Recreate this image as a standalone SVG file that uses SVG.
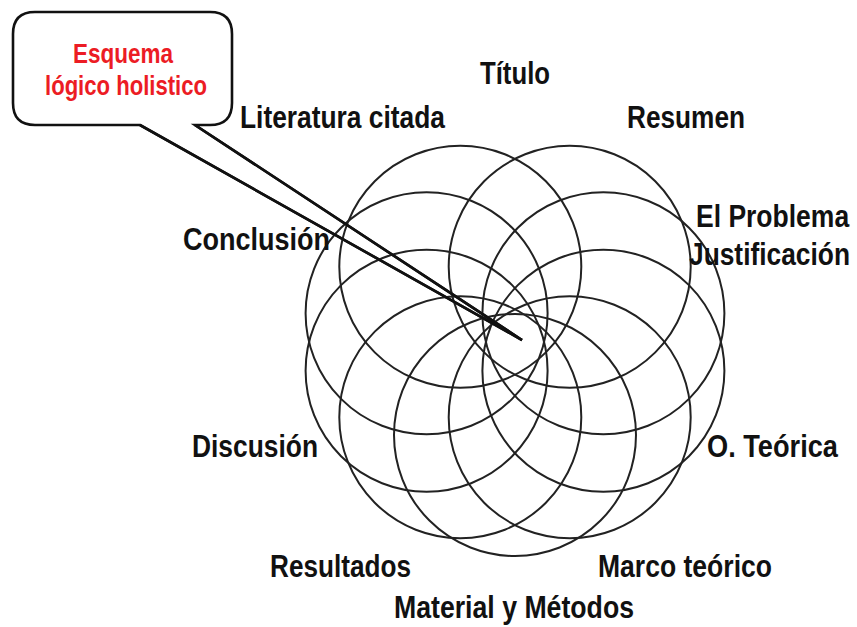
<svg xmlns="http://www.w3.org/2000/svg" width="857" height="627" viewBox="0 0 857 627">
<style>
.ring{fill:none;stroke:#222;stroke-width:2}
.lbl{font-family:"Liberation Sans",Arial,sans-serif;font-weight:bold;font-size:31px;fill:#111}
.red{font-family:"Liberation Sans",Arial,sans-serif;font-weight:bold;font-size:27px;fill:#ec1c24}
</style>
<rect width="857" height="627" fill="#fff"/>
<g id="callout">
<path d="M35,12 H210 Q232,12 232,34 V103 Q232,125 210,125 H195 L522,340 L140,125 H35 Q13,125 13,103 V34 Q13,12 35,12 Z" fill="#fff" stroke="#111" stroke-width="2.6" stroke-linejoin="miter"/>
<text class="red" x="123" y="63" text-anchor="middle" textLength="100" lengthAdjust="spacingAndGlyphs">Esquema</text>
<text class="red" x="126" y="95" text-anchor="middle" textLength="162" lengthAdjust="spacingAndGlyphs">lógico holistico</text>
</g>
<g id="rosette">
<g transform="translate(515,342)">
<circle class="ring" cx="54.7" cy="-75.2" r="121"/>
<circle class="ring" cx="88.4" cy="-28.7" r="121"/>
<circle class="ring" cx="88.4" cy="28.7" r="121"/>
<circle class="ring" cx="54.7" cy="75.2" r="121"/>
<circle class="ring" cx="0" cy="93" r="121"/>
<circle class="ring" cx="-54.7" cy="75.2" r="121"/>
<circle class="ring" cx="-88.4" cy="28.7" r="121"/>
<circle class="ring" cx="-88.4" cy="-28.7" r="121"/>
<circle class="ring" cx="-54.7" cy="-75.2" r="121"/>
</g>
</g>
<g id="connectors">
<path d="M195,125 L522,340 L140,125" fill="none" stroke="#111" stroke-width="2.6" stroke-linejoin="miter"/>
</g>
<g id="labels">
<text id="titulo" class="lbl" x="480" y="84" textLength="70" lengthAdjust="spacingAndGlyphs">Título</text>
<text id="literatura" class="lbl" x="240" y="128" textLength="205" lengthAdjust="spacingAndGlyphs">Literatura citada</text>
<text id="resumen" class="lbl" x="627" y="128" textLength="118" lengthAdjust="spacingAndGlyphs">Resumen</text>
<text id="problema" class="lbl" transform="translate(696,227) scale(0.855,1)">El Problema</text>
<text id="justificacion" class="lbl" transform="translate(689,265) scale(0.85,1)">Justificación</text>
<text id="conclusion" class="lbl" x="183" y="250" textLength="147" lengthAdjust="spacingAndGlyphs">Conclusión</text>
<text id="discusion" class="lbl" x="192" y="457" textLength="126" lengthAdjust="spacingAndGlyphs">Discusión</text>
<text id="oteorica" class="lbl" x="707" y="457" textLength="131" lengthAdjust="spacingAndGlyphs">O. Teórica</text>
<text id="resultados" class="lbl" x="270" y="577" textLength="141" lengthAdjust="spacingAndGlyphs">Resultados</text>
<text id="marco" class="lbl" x="598" y="577" textLength="174" lengthAdjust="spacingAndGlyphs">Marco teórico</text>
<text id="material" class="lbl" x="394" y="618" textLength="240" lengthAdjust="spacingAndGlyphs">Material y Métodos</text>
</g>
</svg>
